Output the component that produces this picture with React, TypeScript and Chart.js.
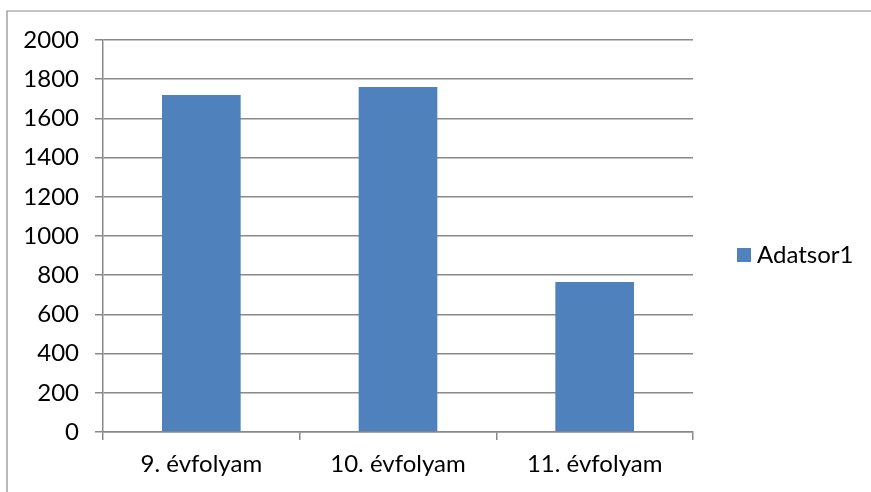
import React, { useEffect, useRef } from "react";
import { Chart, registerables } from "chart.js";

Chart.register(...registerables);

const categories = ["9. évfolyam", "10. évfolyam", "11. évfolyam"];
const seriesName = "Adatsor1";
const seriesValues = [1720, 1760, 765];
const yMin = 0;
const yMax = 2000;
const yStep = 200;

const FONT = "Lato";
const FS = 24;
const BAR = "#4F81BD";
const GRID = "#898989";

const framePlugin = {
  id: "frame",
  beforeDraw(chart: any) {
    const ctx = chart.ctx;
    ctx.save();
    ctx.strokeStyle = "#8c8c8c";
    ctx.lineWidth = 1.2;
    ctx.beginPath();
    ctx.moveTo(7, chart.height);
    ctx.lineTo(7, 11);
    ctx.lineTo(chart.width, 11);
    ctx.stroke();
    ctx.restore();
  },
  afterDraw(chart: any) {
    const ctx = chart.ctx;
    ctx.save();
    ctx.fillStyle = BAR;
    ctx.fillRect(737, 248, 14, 14);
    ctx.fillStyle = "#000";
    ctx.font = `${FS}px ${FONT}`;
    ctx.textBaseline = "alphabetic";
    ctx.textAlign = "left";
    ctx.fillText(seriesName, 757, 263);
    ctx.restore();
  },
};

export default function App() {
  const ref = useRef<HTMLCanvasElement>(null);
  useEffect(() => {
    if (!ref.current) return;
    const chart = new Chart(ref.current, {
      type: "bar",
      data: {
        labels: categories,
        datasets: [
          {
            label: seriesName,
            data: seriesValues,
            backgroundColor: BAR,
            borderWidth: 0,
            barPercentage: 0.4,
            categoryPercentage: 1,
          },
        ],
      },
      options: {
        responsive: false,
        animation: false,
        layout: { padding: { top: 40, right: 178, left: 0, bottom: 0 } },
        plugins: { legend: { display: false }, tooltip: { enabled: false } },
        scales: {
          x: {
            grid: {
              offset: true,
              drawOnChartArea: false,
              drawTicks: true,
              tickLength: 8,
              color: GRID,
              lineWidth: 1.5,
            },
            border: { display: true, color: GRID, width: 1.5 },
            ticks: {
              color: "#000",
              font: { family: FONT, size: FS },
              padding: 10,
              maxRotation: 0,
            },
            afterFit(scale: any) {
              scale.height = 60;
            },
          },
          y: {
            min: yMin,
            max: yMax,
            grid: {
              color: GRID,
              lineWidth: 1.5,
              tickLength: 8,
              drawTicks: true,
            },
            border: { display: true, color: GRID, width: 1.5 },
            ticks: {
              stepSize: yStep,
              color: "#000",
              font: { family: FONT, size: FS },
              padding: 16,
              callback: (v: any) => String(v),
            },
            afterFit(scale: any) {
              scale.width = 103;
            },
          },
        },
      },
      plugins: [framePlugin],
    });
    return () => chart.destroy();
  }, []);
  return (
    <div style={{ position: "absolute", left: 0, top: 0, width: 871, height: 492, background: "#fff" }}>
      <canvas ref={ref} width={871} height={492} />
    </div>
  );
}
